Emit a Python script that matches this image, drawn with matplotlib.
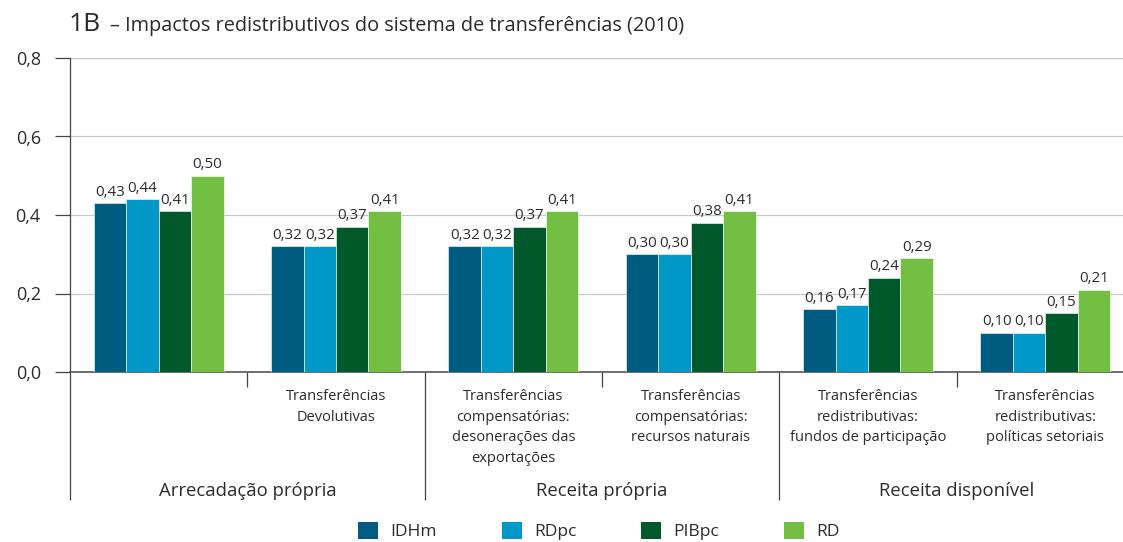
import matplotlib
matplotlib.use("Agg")
import matplotlib.pyplot as plt
import matplotlib.transforms as mtransforms
from matplotlib.patches import Patch
import numpy as np

plt.rcParams['font.family'] = ['Open Sans', 'DejaVu Sans']

categories = [
    "",
    "Transferências\nDevolutivas",
    "Transferências\ncompensatórias:\ndesonerações das\nexportações",
    "Transferências\ncompensatórias:\nrecursos naturais",
    "Transferências\nredistributivas:\nfundos de participação",
    "Transferências\nredistributivas:\npolíticas setoriais",
]
groups = ["Arrecadação própria", "Receita própria", "Receita disponível"]
series_names = ["IDHm", "RDpc", "PIBpc", "RD"]
idhm = [0.43, 0.32, 0.32, 0.30, 0.16, 0.10]
rdpc = [0.44, 0.32, 0.32, 0.30, 0.17, 0.10]
pibpc = [0.41, 0.37, 0.37, 0.38, 0.24, 0.15]
rd = [0.50, 0.41, 0.41, 0.41, 0.29, 0.21]
yticks = [0.0, 0.2, 0.4, 0.6, 0.8]

colors = ["#005b80", "#0099c7", "#00592a", "#72bf44"]
text_color = "#2b2b2b"

W, H = 1123, 542
fig = plt.figure(figsize=(W / 100, H / 100), dpi=100)
ax = fig.add_axes([70 / W, (H - 372) / H, 1064 / W, 314 / H])

x = np.arange(len(categories))
bw = 0.183
all_series = [idhm, rdpc, pibpc, rd]
for i, (vals, c, name) in enumerate(zip(all_series, colors, series_names)):
    pos = x + (i - 1.5) * bw
    bars = ax.bar(pos, vals, width=bw, color=c, edgecolor="white",
                  linewidth=0.4, zorder=3, label=name)
    for b, v in zip(bars, vals):
        ax.annotate(f"{v:.2f}".replace(".", ","),
                    (b.get_x() + b.get_width() / 2, v),
                    xytext=(0, 2.5), textcoords="offset points",
                    ha="center", va="bottom", fontsize=10.8, color=text_color)

ax.set_xlim(-0.5, len(categories) - 0.5)
ax.set_ylim(0, 0.8)
ax.set_yticks(yticks)
ax.set_yticklabels([f"{t:.1f}".replace(".", ",") for t in yticks],
                   fontsize=13, color=text_color)
ax.yaxis.grid(True, color="#c8c8c8", linewidth=0.9, zorder=0)
ax.set_axisbelow(True)
ax.tick_params(axis="y", direction="out", length=11, width=0.9,
               color="#444444", pad=10)

# x ticks: long at group boundaries, short at category boundaries
ax.set_xticks([-0.5, 1.5, 3.5])
ax.set_xticks([0.5, 2.5, 4.5], minor=True)
ax.set_xticklabels([])
ax.tick_params(axis="x", which="major", direction="out", length=92,
               width=0.9, color="#444444")
ax.tick_params(axis="x", which="minor", direction="out", length=11,
               width=0.9, color="#444444")

for s in ["top", "right"]:
    ax.spines[s].set_visible(False)
ax.spines["left"].set_color("#444444")
ax.spines["left"].set_linewidth(0.9)
ax.spines["bottom"].set_color("#555555")
ax.spines["bottom"].set_linewidth(1.2)

trans = mtransforms.blended_transform_factory(ax.transData, ax.transAxes)
for xi, lab in zip(x, categories):
    ax.text(xi, -(389 - 372) / 314, lab, transform=trans, ha="center",
            va="top", fontsize=10.5, color=text_color, linespacing=1.52,
            multialignment="center")
for gi, g in enumerate(groups):
    ax.text(gi * 2 + 0.5, -(496 - 372) / 314, g, transform=trans,
            ha="center", va="baseline", fontsize=13.3, color=text_color)

# Title
fig.text(69 / W, 1 - 31 / H, "1B", fontsize=19, color=text_color,
         va="baseline", ha="left")
fig.text(110 / W, 1 - 31 / H,
         "– Impactos redistributivos do sistema de transferências (2010)",
         fontsize=14.3, color=text_color, va="baseline", ha="left")

handles = [Patch(facecolor=c, edgecolor="none") for c in colors]
fig.legend(handles, series_names, loc="upper left",
           bbox_to_anchor=(358 / W, 1 - 522 / H), ncol=4, frameon=False,
           fontsize=12.5, handlelength=1.15, handleheight=1.15,
           handletextpad=0.7, columnspacing=3.75, borderpad=0,
           borderaxespad=0, labelcolor=text_color)

fig.savefig("out.png", dpi=100)
